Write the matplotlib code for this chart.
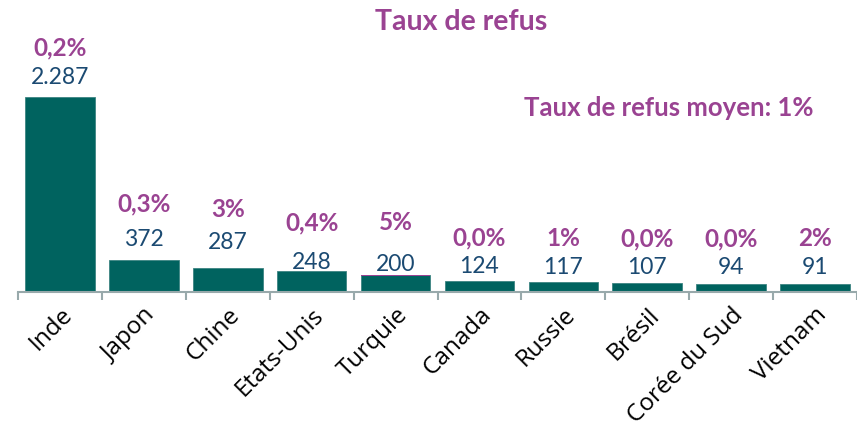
import matplotlib
matplotlib.use("Agg")
import matplotlib.pyplot as plt

# data
pays = ["Inde", "Japon", "Chine", "Etats-Unis", "Turquie", "Canada",
        "Russie", "Brésil", "Corée du Sud", "Vietnam"]
demandes = [2287, 372, 287, 248, 200, 124, 117, 107, 94, 91]
refus = [5, 1, 9, 1, 10, 0, 1, 0, 0, 2]
taux = ["0,2%", "0,3%", "3%", "0,4%", "5%", "0,0%", "1%", "0,0%", "0,0%", "2%"]
val_labels = ["2.287", "372", "287", "248", "200", "124", "117", "107", "94", "91"]
moyen = "1%"

# label offsets in pixels (the source chart places them unevenly)
val_off = [19, 21, 25, 8, 10, 15, 15, 15, 16, 17]
taux_off = [30, 35, 33, 40, 42, 29, 29, 29, 29, 29]

TEAL = "#00635f"
PURPLE = "#9a4392"
BLUE = "#1b4a72"
GREY = "#98a9ab"

plt.rcParams["font.family"] = ["Lato", "DejaVu Sans"]

W, H = 857, 432
fig = plt.figure(figsize=(W / 100, H / 100), dpi=100)
ax = fig.add_axes([18 / W, 140 / H, 839 / W, 292 / H])

x = list(range(len(pays)))
ax.bar(x, demandes, width=0.83, color=TEAL, edgecolor="#3d8482", linewidth=0.6)
bottoms = [d - r for d, r in zip(demandes, refus)]
ax.bar(x, refus, bottom=bottoms, width=0.83, color=PURPLE, linewidth=0)

px = 0.72  # points per pixel at dpi 100
for i in x:
    vy = val_off[i]
    ax.annotate(val_labels[i], (i, demandes[i]), xytext=(0, vy * px),
                textcoords="offset points", ha="center", va="center",
                fontsize=16.5, color=BLUE)
    ax.annotate(taux[i], (i, demandes[i]), xytext=(0, (vy + taux_off[i]) * px),
                textcoords="offset points", ha="center", va="center",
                fontsize=17.5, color=PURPLE, fontweight="bold")

ax.set_xlim(-0.5, 9.406)
ax.set_ylim(0, 292 / (195 / 2287))

for s in ["top", "right", "left"]:
    ax.spines[s].set_visible(False)
ax.spines["bottom"].set_color(GREY)
ax.spines["bottom"].set_linewidth(1.5)
ax.set_yticks([])

ax.set_xticks(x)
ax.set_xticklabels(pays, rotation=45, ha="right", rotation_mode="anchor",
                   fontsize=17.5, family=["Open Sans", "DejaVu Sans"])
ax.tick_params(axis="x", which="major", length=0, pad=8)
ax.set_xticks([i - 0.5 for i in x] + [9.5], minor=True)
ax.tick_params(axis="x", which="minor", length=6, width=1.5, color=GREY,
               direction="out")

fig.text(461 / W, 1 - 22 / H, "Taux de refus", ha="center", va="center",
         fontsize=20.5, fontweight="bold", color=PURPLE)
fig.text(669 / W, 1 - 108 / H, "Taux de refus moyen: " + moyen, ha="center",
         va="center", fontsize=18.5, fontweight="bold", color=PURPLE)

fig.savefig("out.png", dpi=100)
